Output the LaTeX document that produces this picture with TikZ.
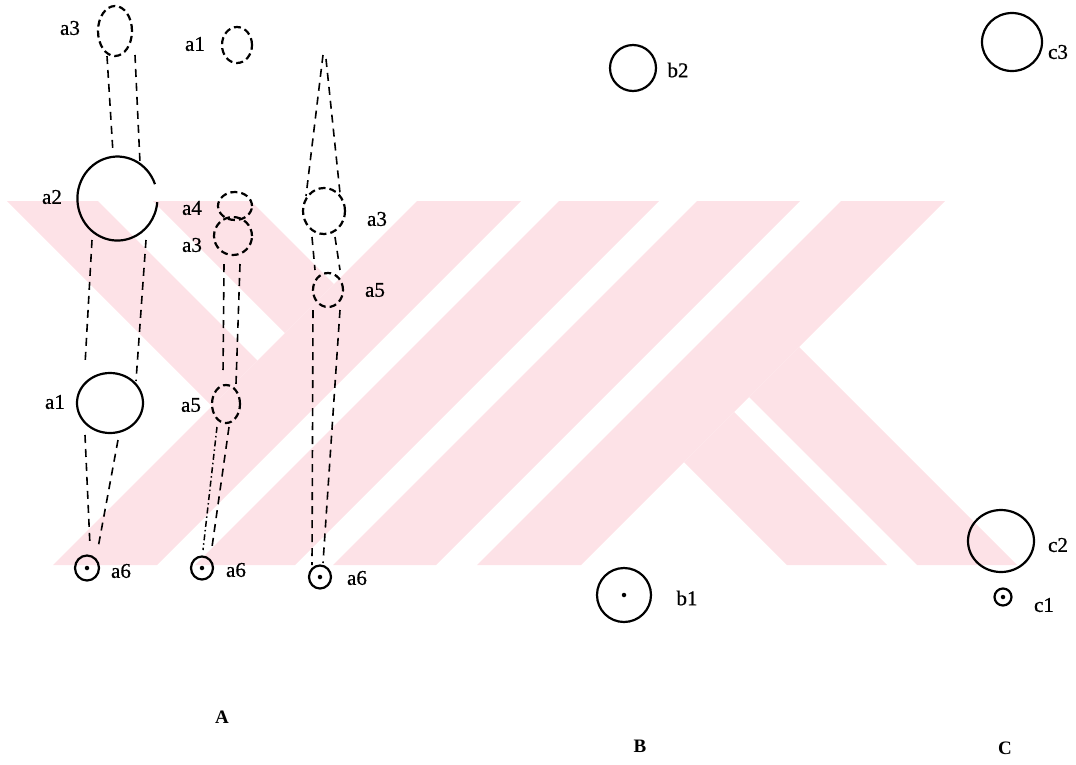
\documentclass[tikz,border=0pt]{standalone}
\usepackage{fontspec}
\setmainfont{Liberation Serif}
\newfontfamily\lblfont{Liberation Serif}[FakeBold=0.7]
\usetikzlibrary{shapes.geometric,calc}
\definecolor{wmark}{RGB}{253,226,231}
\begin{document}
\begin{tikzpicture}[x=1pt,y=-1pt,
  ring/.style={ellipse,draw,line width=2.2pt,inner sep=0pt,outer sep=0pt},
  dring/.style={ring,dash pattern=on 7pt off 4pt},
  guide/.style={line width=1.6pt,dash pattern=on 8pt off 6pt},
  dguide/.style={line width=1.5pt,dash pattern=on 6pt off 3pt on 1.5pt off 3pt},
  lbl/.style={font=\lblfont\fontsize{21}{23}\selectfont,inner sep=0pt},
  grpcap/.style={font=\fontsize{19}{21}\selectfont\bfseries,inner sep=0pt},
  dot/.style={circle,fill,inner sep=0pt,minimum size=4.5pt},
  band/.style={fill=wmark,draw=none}]
\useasboundingbox (0,0) rectangle (1076,764);

% ---------- background emblem ----------
\begin{scope}
  \clip (0,201) rectangle (1076,565);
  % slanted bands going down-right
  \begin{scope}
    \clip (0,0) -- (618,0) -- (0,618) -- cycle;
    \fill[band] (7,201) -- (98,201) -- (462,565) -- (371,565) -- cycle;
    \fill[band] (153,201) -- (251,201) -- (615,565) -- (517,565) -- cycle;
  \end{scope}
  % slanted bands going down-left
  \fill[band] (417,201) -- (521,201) -- (157,565) -- (53,565) -- cycle;
  \fill[band] (559,201) -- (659,201) -- (295,565) -- (195,565) -- cycle;
  \fill[band] (697,201) -- (800,201) -- (436,565) -- (333,565) -- cycle;
  \fill[band] (841,201) -- (945,201) -- (581,565) -- (477,565) -- cycle;
  % lower legs
  \begin{scope}
    \clip (1146,0) -- (1076,0) -- (1076,764) -- (382,764) -- cycle;
    \fill[band] (423,201) -- (523,201) -- (887,565) -- (787,565) -- cycle;
    \fill[band] (553,201) -- (653,201) -- (1017,565) -- (917,565) -- cycle;
  \end{scope}
\end{scope}

% ---------- group A, first column ----------
\node[dring,minimum width=34pt,minimum height=50pt] (p1a3) at (115,31) {};
\node[lbl] at (70,28) {a3};
\node[dring,minimum width=30pt,minimum height=36pt] (p1a1t) at (237,45) {};
\node[lbl] at (195,44) {a1};
\node[ellipse,inner sep=0pt,minimum width=80pt,minimum height=84pt] (p1a2) at (117,198) {};
\draw[line width=2.2pt] (p1a2.20) arc[start angle=-20,end angle=-355,x radius=40,y radius=42];
\node[lbl] at (52,197) {a2};
\node[ring,minimum width=66pt,minimum height=60pt] (p1a1) at (110,403) {};
\node[lbl] at (55,402) {a1};
\node[ring,minimum width=24pt,minimum height=25pt] (p1a6) at (87,568) {};
\node[dot] at (p1a6) {};
\node[lbl] at (121,571) {a6};

\draw[guide] ($(p1a3)+(-8,25)$) -- ($(p1a2)+(-4,-45)$);
\draw[guide] ($(p1a3)+(20,24)$) -- ($(p1a2)+(23,-35)$);
\draw[guide] ($(p1a2)+(-25,42)$) -- ($(p1a1)+(-25,-38)$);
\draw[guide] ($(p1a2)+(29,42)$) -- ($(p1a1)+(26,-22)$);
\draw[guide] ($(p1a1)+(-25,32)$) -- ($(p1a6)+(3,-22)$);
\draw[guide] ($(p1a1)+(8,37)$) -- ($(p1a6)+(11,-20)$);

% ---------- group A, second column ----------
\node[dring,minimum width=34pt,minimum height=28pt] (p2a4) at (235,206) {};
\node[lbl] at (192,208) {a4};
\node[dring,minimum width=38pt,minimum height=38pt] (p2a3) at (233,236) {};
\node[lbl] at (192,245) {a3};
\node[dring,minimum width=28pt,minimum height=38pt] (p2a5) at (226,404) {};
\node[lbl] at (191,405) {a5};
\node[ring,minimum width=22pt,minimum height=23pt] (p2a6) at (202,568) {};
\node[dot] at (p2a6) {};
\node[lbl] at (236,570) {a6};

\draw[guide] ($(p2a3)+(-9,28)$) -- ($(p2a5)+(-3,-30)$);
\draw[guide] ($(p2a3)+(7,28)$) -- ($(p2a5)+(10,-20)$);
\draw[dguide] ($(p2a5)+(-9,23)$) -- ($(p2a6)+(1,-18)$);
\draw[guide] ($(p2a5)+(3,23)$) -- ($(p2a6)+(10,-21)$);

% ---------- group A, third column ----------
\coordinate (apex) at (323,55);
\node[dring,minimum width=42pt,minimum height=46pt] (p3a3) at (324,211) {};
\node[lbl] at (377,219) {a3};
\node[dring,minimum width=30pt,minimum height=34pt] (p3a5) at (328,290) {};
\node[lbl] at (375,290) {a5};
\node[ring,minimum width=22pt,minimum height=23pt] (p3a6) at (320,577) {};
\node[dot] at (p3a6) {};
\node[lbl] at (357,578) {a6};

\draw[guide] (apex) -- ($(p3a3)+(-18,-15)$);
\draw[guide] ($(apex)+(3,4)$) -- ($(p3a3)+(16,-18)$);
\draw[guide] ($(p3a3)+(-12,26)$) -- ($(p3a5)+(-13,-20)$);
\draw[guide] ($(p3a3)+(11,26)$) -- ($(p3a5)+(12,-20)$);
\draw[guide] ($(p3a5)+(-15,20)$) -- ($(p3a6)+(-8,-12)$);
\draw[guide] ($(p3a5)+(12,20)$) -- ($(p3a6)+(3,-14)$);

% ---------- group B ----------
\node[ring,minimum width=46pt,minimum height=46pt] (pb2) at (633,68) {};
\node[lbl] at (678,70) {b2};
\node[ring,minimum width=54pt,minimum height=54pt] (pb1) at (624,595) {};
\node[dot] at (pb1) {};
\node[lbl] at (687,598) {b1};

% ---------- group C ----------
\node[ring,minimum width=60pt,minimum height=58pt] (pc3) at (1012,42) {};
\node[lbl] at (1058,52) {c3};
\node[ring,minimum width=66pt,minimum height=62pt] (pc2) at (1001,541) {};
\node[lbl] at (1058,545) {c2};
\node[ring,minimum width=17pt,minimum height=17pt] (pc1) at (1003,597) {};
\node[dot] at (pc1) {};
\node[lbl] at (1044,605) {c1};

% ---------- group captions ----------
\node[grpcap] (capA) at (222,717) {A};
\node[grpcap] (capB) at (640,746) {B};
\node[grpcap] (capC) at (1005,748) {C};
\end{tikzpicture}
\end{document}
